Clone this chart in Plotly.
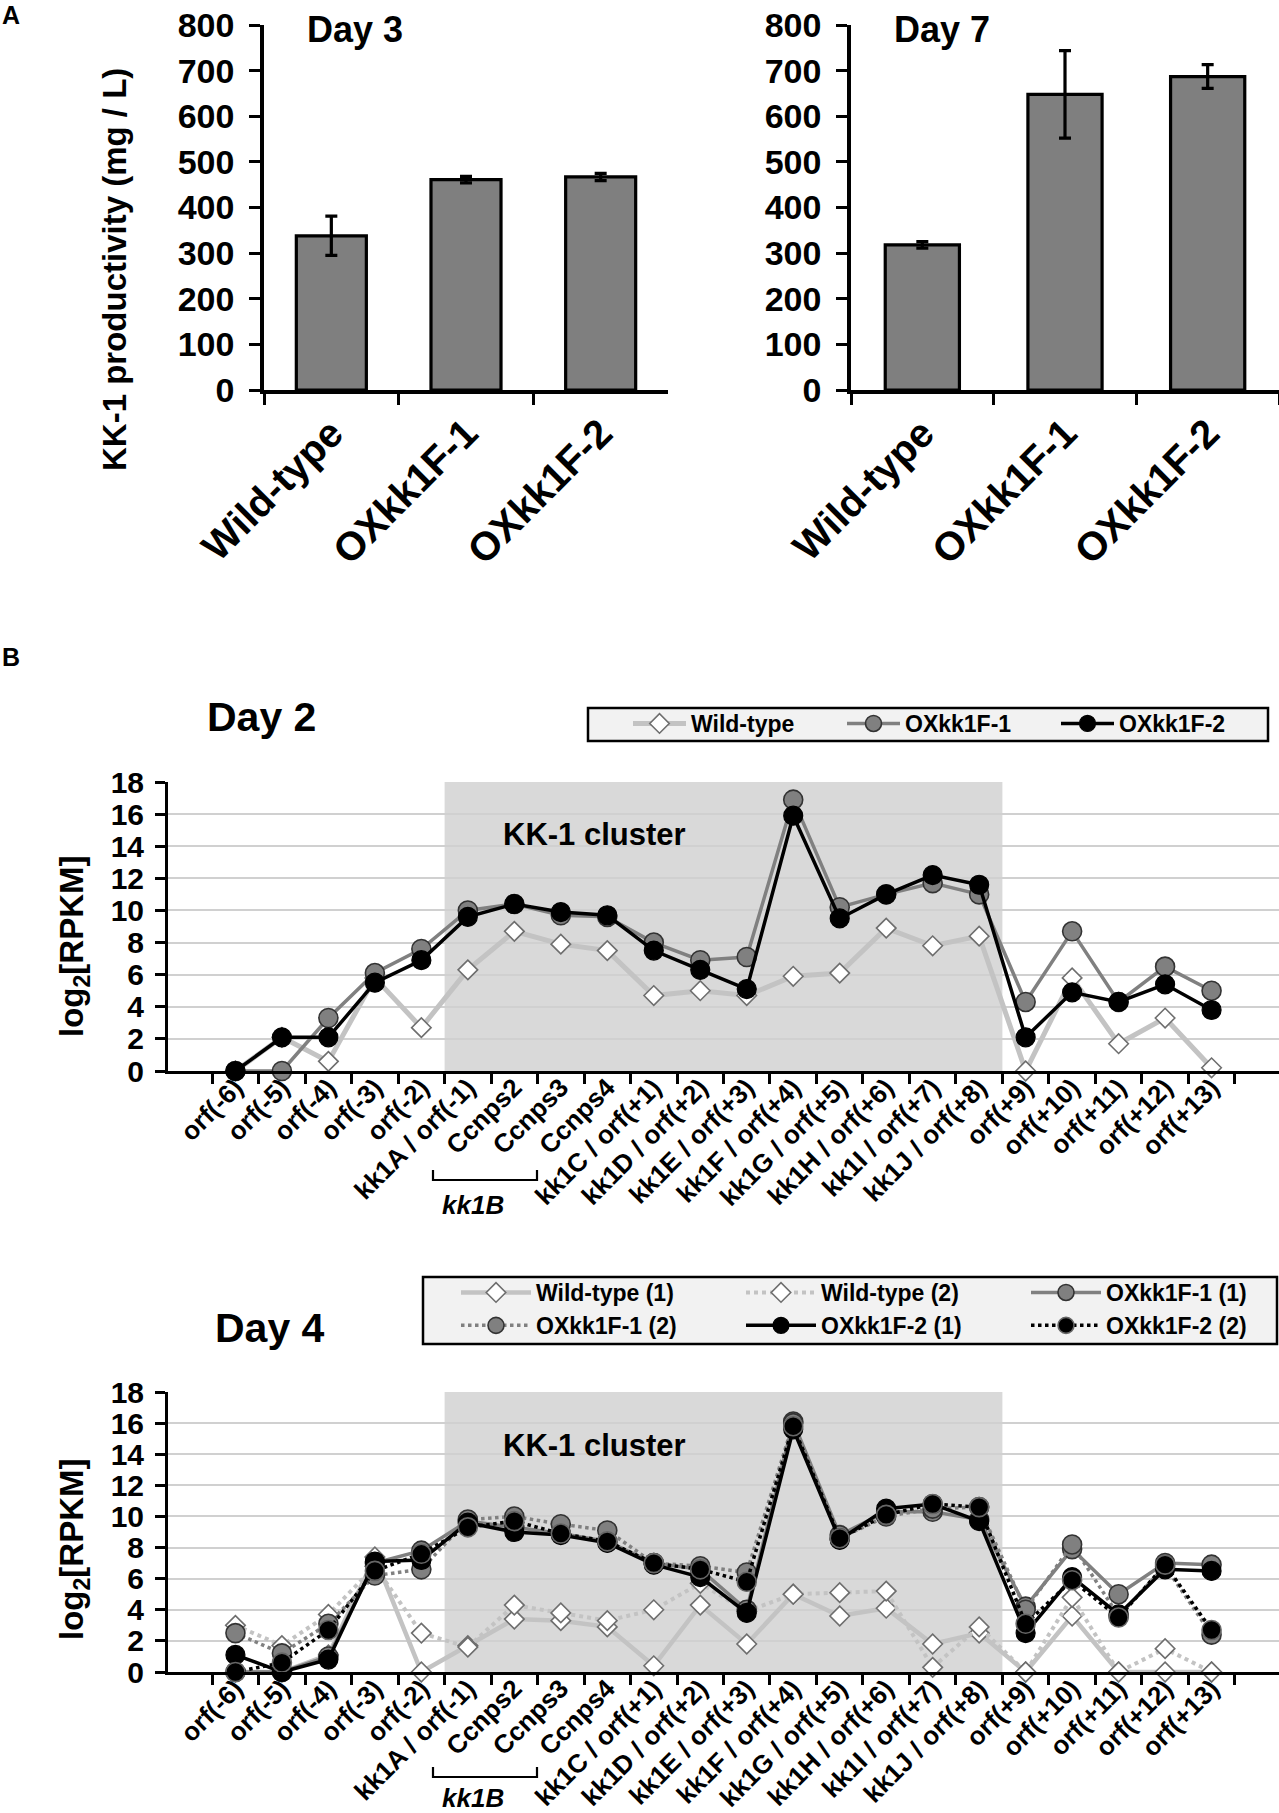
import plotly.graph_objects as go

W, H = 1279, 1813
FONT = "Liberation Sans, Arial, sans-serif"

# ---------------- Panel A data ----------------
strains = ["Wild-type", "OXkk1F-1", "OXkk1F-2"]
day3_mean = [338, 461, 467]
day3_err = [43, 7, 8]
day7_mean = [318, 648, 687]
day7_err = [7, 96, 26]

# ---------------- Panel B data ----------------
genes = ["orf(-6)", "orf(-5)", "orf(-4)", "orf(-3)", "orf(-2)", "kk1A / orf(-1)",
         "Ccnps2", "Ccnps3", "Ccnps4", "kk1C / orf(+1)", "kk1D / orf(+2)",
         "kk1E / orf(+3)", "kk1F / orf(+4)", "kk1G / orf(+5)", "kk1H / orf(+6)",
         "kk1I / orf(+7)", "kk1J / orf(+8)", "orf(+9)", "orf(+10)", "orf(+11)",
         "orf(+12)", "orf(+13)"]

d2_wt = [0, 2.1, 0.6, 5.8, 2.7, 6.3, 8.7, 7.9, 7.5, 4.7, 5.0, 4.7, 5.9, 6.1, 8.9, 7.8, 8.4, 0, 5.8, 1.7, 3.3, 0.2]
d2_ox1 = [0, 0, 3.3, 6.1, 7.6, 10.0, 10.4, 9.7, 9.6, 8.0, 6.9, 7.1, 16.9, 10.2, 11.0, 11.7, 11.0, 4.3, 8.7, 4.3, 6.5, 5.0]
d2_ox2 = [0, 2.1, 2.1, 5.5, 6.9, 9.6, 10.4, 9.9, 9.7, 7.5, 6.3, 5.1, 15.9, 9.5, 11.0, 12.2, 11.6, 2.1, 4.9, 4.3, 5.4, 3.8]

d4_wt1 = [0, 0, 1.1, 7.4, 0, 1.7, 3.4, 3.3, 2.9, 0.4, 4.3, 1.8, 5.0, 3.6, 4.1, 1.8, 2.5, 0, 3.6, 0, 0, 0]
d4_wt2 = [3.0, 1.7, 3.7, 6.8, 2.5, 1.6, 4.3, 3.8, 3.3, 4.0, 5.7, 3.9, 5.0, 5.1, 5.2, 0.3, 2.9, 0, 4.8, 0, 1.5, 0]
d4_ox1_1 = [0, 0, 1.0, 7.0, 7.8, 9.7, 9.3, 8.9, 8.4, 7.0, 6.6, 4.0, 16.1, 8.8, 10.3, 10.3, 9.8, 4.2, 7.9, 5.0, 7.0, 6.9]
d4_ox1_2 = [2.5, 1.2, 3.1, 6.2, 6.6, 9.8, 10.0, 9.5, 9.1, 7.0, 6.8, 6.4, 16.0, 8.6, 10.0, 10.5, 10.6, 4.0, 8.2, 3.6, 6.8, 2.4]
d4_ox2_1 = [1.1, 0, 0.8, 7.1, 7.2, 9.6, 9.0, 8.8, 8.3, 6.9, 6.1, 3.8, 15.6, 8.5, 10.5, 10.8, 9.7, 2.5, 6.1, 3.7, 6.6, 6.5]
d4_ox2_2 = [0, 0.6, 2.7, 6.5, 7.6, 9.3, 9.7, 8.9, 8.4, 7.0, 6.6, 5.8, 15.8, 8.6, 10.1, 10.8, 10.6, 3.1, 5.9, 3.5, 6.9, 2.7]

cluster_start, cluster_end = "kk1A / orf(-1)", "kk1J / orf(+8)"


def px(x):
    return x / W


def py(y):
    return 1 - y / H


def f(size, bold=True, italic=False):
    d = dict(family=FONT, size=size, color="black")
    if bold:
        d["weight"] = "bold"
    if italic:
        d["style"] = "italic"
    return d


fig = go.Figure()

# ---------------- Panel A bars ----------------
for mean, err, xa, ya in [(day3_mean, day3_err, "x", "y"), (day7_mean, day7_err, "x2", "y2")]:
    fig.add_trace(go.Bar(
        x=strains, y=mean, width=0.52,
        marker=dict(color="#7f7f7f", line=dict(color="black", width=3.2)),
        error_y=dict(type="data", array=err, color="black", thickness=3.2, width=6),
        xaxis=xa, yaxis=ya, showlegend=False))

# ---------------- Panel B lines ----------------
WT_LINE = "#c3c3c3"
OX1_C = "#808080"


def wt_marker():
    return dict(symbol="diamond", size=15, color="white", line=dict(color="#6e6e6e", width=1.6))


def ox1_marker():
    return dict(symbol="circle", size=19, color=OX1_C, line=dict(color="#333333", width=1.6))


def ox2_marker():
    return dict(symbol="circle", size=19, color="black", line=dict(color="black", width=1.2))


# Day 2
fig.add_trace(go.Scatter(x=genes, y=d2_wt, name="Wild-type", mode="lines+markers",
                         line=dict(color=WT_LINE, width=5), marker=wt_marker(),
                         xaxis="x3", yaxis="y3", legend="legend", cliponaxis=False))
fig.add_trace(go.Scatter(x=genes, y=d2_ox1, name="OXkk1F-1", mode="lines+markers",
                         line=dict(color=OX1_C, width=3.5), marker=ox1_marker(),
                         xaxis="x3", yaxis="y3", legend="legend", cliponaxis=False))
fig.add_trace(go.Scatter(x=genes, y=d2_ox2, name="OXkk1F-2", mode="lines+markers",
                         line=dict(color="black", width=3.5), marker=ox2_marker(),
                         xaxis="x3", yaxis="y3", legend="legend", cliponaxis=False,
                         legendwidth=115))

# Day 4 (legend groups give a 3-column, 2-row legend)
day4_series = [
    ("Wild-type (1)", d4_wt1, dict(color=WT_LINE, width=4.5), wt_marker(), "g1", 200),
    ("Wild-type (2)", d4_wt2, dict(color=WT_LINE, width=4, dash="dot"), wt_marker(), "g2", 200),
    ("OXkk1F-1 (1)", d4_ox1_1, dict(color=OX1_C, width=3.5), ox1_marker(), "g3", 150),
    ("OXkk1F-1 (2)", d4_ox1_2, dict(color=OX1_C, width=3.5, dash="dot"), ox1_marker(), "g1", 200),
    ("OXkk1F-2 (1)", d4_ox2_1, dict(color="black", width=3.5), ox2_marker(), "g2", 200),
    ("OXkk1F-2 (2)", d4_ox2_2, dict(color="black", width=3.5, dash="dot"),
     dict(symbol="circle", size=19, color="black", line=dict(color="#666666", width=1.6)), "g3", 150),
]
for name, vals, ln, mk, grp, lw in day4_series:
    fig.add_trace(go.Scatter(x=genes, y=vals, name=name, mode="lines+markers",
                             line=ln, marker=mk, legendgroup=grp, legendwidth=lw,
                             xaxis="x4", yaxis="y4", legend="legend2", cliponaxis=False))

# ---------------- Axes ----------------
bar_x = dict(type="category", tickson="boundaries", ticks="outside", ticklen=11, tickwidth=3.2,
             showline=True, linewidth=3.5, linecolor="black", tickcolor="black",
             tickangle=-45, tickfont=f(40), showgrid=False, zeroline=False, automargin=False)
bar_y = dict(range=[0, 800], dtick=100, ticks="outside", ticklen=11, tickwidth=3.2,
             showline=True, linewidth=3.5, linecolor="black", tickcolor="black",
             tickfont=f(34), showgrid=False, zeroline=False, ticklabelstandoff=8,
             automargin=False)

yA0, yA1 = py(390), py(25)
line_x = dict(type="category", tickson="boundaries", ticks="outside", ticklen=10, tickwidth=2.5,
              showline=True, linewidth=3, linecolor="black", tickcolor="black",
              tickangle=-45, tickfont=f(26), showgrid=False, zeroline=False,
              tickmode="linear", tick0=0, dtick=1, automargin=False,
              ticklabelstandoff=-12)
line_y = dict(range=[0, 18], dtick=2, ticks="outside", ticklen=10, tickwidth=2.5,
              showline=True, linewidth=3, linecolor="black", tickcolor="black",
              tickfont=f(30), showgrid=True, gridcolor="#d0d0d0", gridwidth=2,
              zeroline=False, ticklabelstandoff=5, automargin=False)

fig.update_layout(
    width=W, height=H,
    margin=dict(l=0, r=0, t=0, b=0, autoexpand=False),
    paper_bgcolor="white", plot_bgcolor="rgba(0,0,0,0)",
    showlegend=True,
    xaxis=dict(domain=[px(264), px(668)], anchor="y", **bar_x),
    yaxis=dict(domain=[yA0, yA1], anchor="x", **bar_y),
    xaxis2=dict(domain=[px(851), 1.0], anchor="y2", **bar_x),
    yaxis2=dict(domain=[yA0, yA1], anchor="x2", **bar_y),
    xaxis3=dict(domain=[px(168), 1.0], anchor="y3", **line_x),
    yaxis3=dict(domain=[py(1071), py(782)], anchor="x3", **line_y),
    xaxis4=dict(domain=[px(168), 1.0], anchor="y4", **line_x),
    yaxis4=dict(domain=[py(1672), py(1392)], anchor="x4", **line_y),
    legend=dict(orientation="h", x=px(628), xanchor="left", y=py(702), yanchor="top",
                bgcolor="rgba(0,0,0,0)", borderwidth=0, font=f(23), itemwidth=53,
                entrywidth=146, entrywidthmode="pixels", traceorder="normal"),
    legend2=dict(orientation="h", x=px(456), xanchor="left", y=py(1271), yanchor="top",
                 bgcolor="rgba(0,0,0,0)", borderwidth=0, font=f(23), itemwidth=70,
                 entrywidth=200, entrywidthmode="pixels", traceorder="grouped",
                 tracegroupgap=0),
)

shapes = []
# KK-1 cluster shading
ci0 = genes.index(cluster_start) - 0.5
ci1 = genes.index(cluster_end) + 0.5
for xr, yr in [("x3", "y3"), ("x4", "y4")]:
    shapes.append(dict(type="rect", xref=xr, yref=yr, x0=ci0, x1=ci1, y0=0, y1=18,
                       fillcolor="#d9d9d9", line=dict(width=0), layer="below"))
# legend boxes
shapes.append(dict(type="rect", xref="paper", yref="paper", x0=px(588), x1=px(1268),
                   y0=py(741), y1=py(708), fillcolor="#f2f2f2",
                   line=dict(color="black", width=2.5), layer="below"))
shapes.append(dict(type="rect", xref="paper", yref="paper", x0=px(423), x1=px(1277),
                   y0=py(1344), y1=py(1277), fillcolor="#f2f2f2",
                   line=dict(color="black", width=2.5), layer="below"))
# kk1B brackets
for yb in [1180, 1777]:
    shapes.append(dict(type="path", xref="paper", yref="paper",
                       path=f"M {px(433)} {py(yb - 10)} L {px(433)} {py(yb)} L {px(537)} {py(yb)} L {px(537)} {py(yb - 10)}",
                       line=dict(color="black", width=2.2)))
fig.update_layout(shapes=shapes)

ann = []


def add_text(text, x, y, size, xanchor="left", angle=0, italic=False):
    ann.append(dict(text=text, xref="paper", yref="paper", x=px(x), y=py(y), xanchor=xanchor,
                    yanchor="middle", showarrow=False, textangle=angle, font=f(size, italic=italic)))


add_text("A", 0, 15, 25)
add_text("B", 0, 657, 25)
add_text("Day 3", 305, 29, 36)
add_text("Day 7", 892, 29, 36)
add_text("KK-1 productivity (mg / L)", 114, 270, 33, xanchor="center", angle=-90)
add_text("Day 2", 205, 717, 41)
add_text("Day 4", 213, 1328, 41)
add_text("KK-1 cluster", 501, 834, 31)
add_text("KK-1 cluster", 501, 1445, 31)
add_text("log<sub>2</sub>[RPKM]", 74, 947, 33, xanchor="center", angle=-90)
add_text("log<sub>2</sub>[RPKM]", 74, 1550, 33, xanchor="center", angle=-90)
add_text("kk1B", 473, 1205, 26, xanchor="center", italic=True)
add_text("kk1B", 473, 1798, 26, xanchor="center", italic=True)
fig.update_layout(annotations=ann)

fig.write_html("out.html", config={"displayModeBar": False},
               post_script="document.body.style.margin='0px';document.body.style.padding='0px';")
